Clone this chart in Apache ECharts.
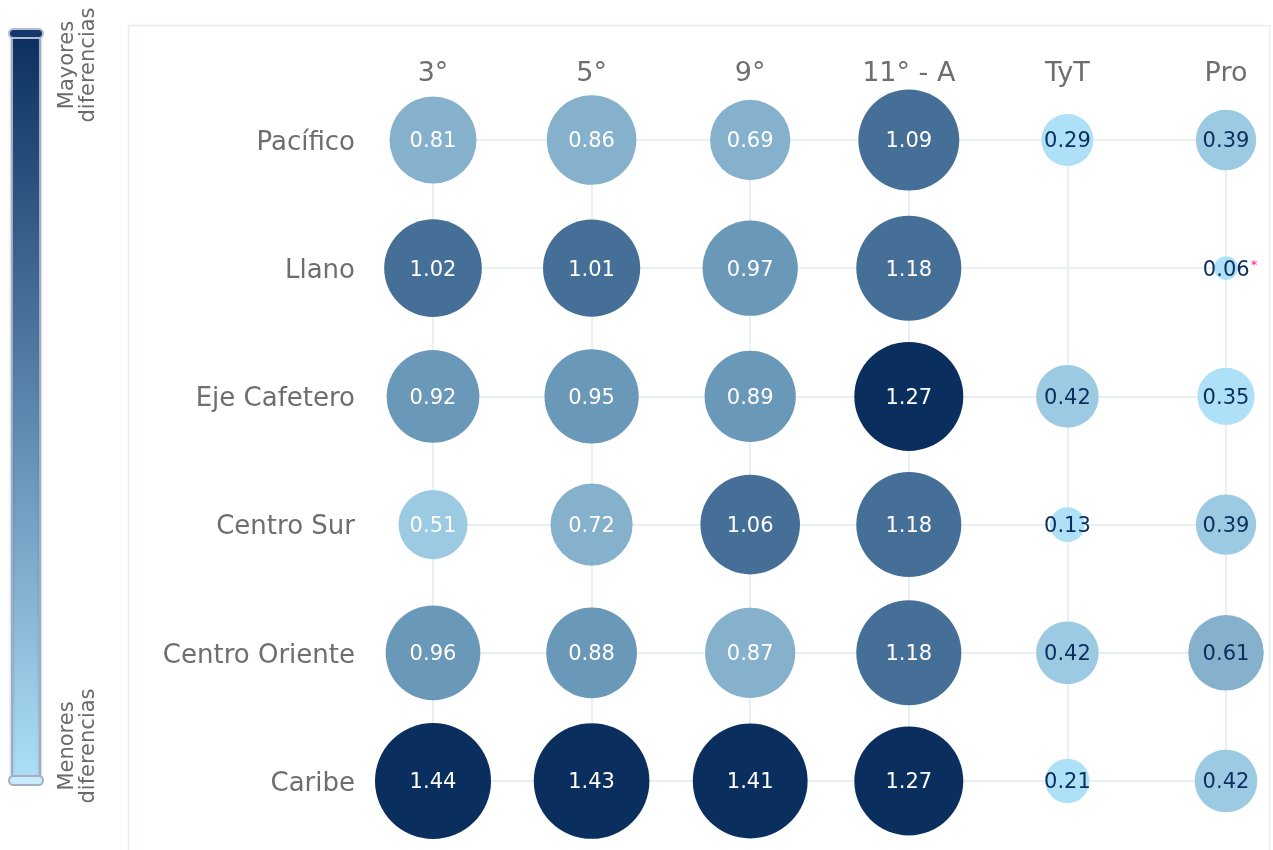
<!DOCTYPE html>
<html>
<head>
<meta charset="utf-8">
<script src="https://cdn.jsdelivr.net/npm/echarts@6/dist/echarts.min.js"></script>
<style>
html,body{margin:0;padding:0;background:#fff;}
#c{width:1273px;height:850px;}
</style>
</head>
<body>
<div id="c"></div>
<script>
// ---- data ----
var columnas = ['3°', '5°', '9°', '11° - A', 'TyT', 'Pro'];
var regiones = ['Pacífico', 'Llano', 'Eje Cafetero', 'Centro Sur', 'Centro Oriente', 'Caribe'];
var pacifico      = [0.81, 0.86, 0.69, 1.09, 0.29, 0.39];
var llano         = [1.02, 1.01, 0.97, 1.18, null, 0.06];
var ejeCafetero   = [0.92, 0.95, 0.89, 1.27, 0.42, 0.35];
var centroSur     = [0.51, 0.72, 1.06, 1.18, 0.13, 0.39];
var centroOriente = [0.96, 0.88, 0.87, 1.18, 0.42, 0.61];
var caribe        = [1.44, 1.43, 1.41, 1.27, 0.21, 0.42];
// cells marked with an asterisk [row, column]
var notas = [[1, 5]];
// colour class thresholds
var umbrales = [0.37, 0.55, 0.875, 1.0, 1.2];
var colores = ['#aee0f8', '#9ccae2', '#85b1cd', '#6a98b8', '#456f96', '#0a2f5e'];
var leyendaAlta = 'Mayores\ndiferencias';
var leyendaBaja = 'Menores\ndiferencias';

var filas = [pacifico, llano, ejeCafetero, centroSur, centroOriente, caribe];

function esNota(r, c) {
  for (var i = 0; i < notas.length; i++) if (notas[i][0] === r && notas[i][1] === c) return true;
  return false;
}

var datos = [];
filas.forEach(function (fila, r) {
  fila.forEach(function (v, c) {
    if (v === null) return;
    var nota = esNota(r, c);
    datos.push({
      value: [c, r, v],
      label: {
        color: c >= 4 ? '#0a2f5e' : '#ffffff',
        offset: nota ? [4, 2] : [0, 2]
      },
      nota: nota
    });
  });
});

var piezas = [];
for (var i = 0; i <= umbrales.length; i++) {
  var p = { color: colores[i] };
  if (i > 0) p.gte = umbrales[i - 1];
  if (i < umbrales.length) p.lt = umbrales[i];
  piezas.push(p);
}

var chart = echarts.init(document.getElementById('c'), null, { renderer: 'canvas' });

var labelFont = 'DejaVu Sans, Verdana, sans-serif';

chart.setOption({
  backgroundColor: '#ffffff',
  animation: false,
  grid: { left: 433, right: 47, top: 140, bottom: 69 },
  xAxis: {
    type: 'category',
    data: columnas,
    position: 'top',
    boundaryGap: false,
    axisLine: { show: false },
    axisTick: { show: false },
    axisLabel: { fontSize: 27, color: '#6e6e6e', margin: 53, fontFamily: labelFont },
    splitLine: { show: true, lineStyle: { color: '#e8f0f3', width: 2 } }
  },
  yAxis: {
    type: 'category',
    data: regiones,
    inverse: true,
    boundaryGap: false,
    axisLine: { show: false },
    axisTick: { show: false },
    axisLabel: {
      margin: 78,
      formatter: function (v) { return '{r|' + v + '}'; },
      rich: { r: { fontSize: 26, color: '#6e6e6e', fontFamily: labelFont, padding: [6, 0, 0, 0] } }
    },
    splitLine: { show: true, lineStyle: { color: '#e8f0f3', width: 2 } }
  },
  visualMap: {
    type: 'piecewise',
    show: false,
    dimension: 2,
    seriesIndex: 0,
    pieces: piezas
  },
  series: [{
    type: 'scatter',
    data: datos,
    symbolSize: function (val) { return 96.7 * Math.sqrt(val[2]); },
    itemStyle: { opacity: 1 },
    label: {
      show: true,
      position: 'inside',
      fontSize: 21,
      fontFamily: labelFont,
      formatter: function (p) {
        var t = p.value[2].toFixed(2);
        return p.data.nota ? '{v|' + t + '}{s|*}' : t;
      },
      rich: {
        v: { fontSize: 21, fontFamily: labelFont, color: '#0a2f5e' },
        s: { fontSize: 13, fontFamily: labelFont, color: '#ff1fa0', verticalAlign: 'top', padding: [0, 0, 10, 1] }
      }
    },
    emphasis: { disabled: true },
    z: 3
  }],
  graphic: [
    {
      type: 'rect', z: -1, silent: true,
      shape: { x: 128.5, y: 25.5, width: 1141, height: 840 },
      style: { fill: 'none', stroke: '#e6efef', lineWidth: 1.5 }
    },
    {
      type: 'rect', silent: true,
      shape: { x: 12, y: 33, width: 28, height: 748 },
      style: {
        fill: new echarts.graphic.LinearGradient(0, 0, 0, 1, [
          { offset: 0, color: '#0a2f5e' },
          { offset: 0.5, color: '#5b86ad' },
          { offset: 1, color: '#aee0f8' }
        ]),
        stroke: '#a3abc4', lineWidth: 2,
        shadowBlur: 3, shadowColor: 'rgba(80,90,120,0.35)'
      }
    },
    {
      type: 'rect', silent: true,
      shape: { x: 9, y: 29, width: 34, height: 9, r: 4.5 },
      style: { fill: '#14386a', stroke: '#b4bccf', lineWidth: 2 }
    },
    {
      type: 'rect', silent: true,
      shape: { x: 9, y: 776, width: 34, height: 9, r: 4.5 },
      style: { fill: '#c6ebfb', stroke: '#a6aec4', lineWidth: 2 }
    },
    {
      type: 'text', silent: true,
      x: 78, y: 65, rotation: Math.PI / 2,
      style: {
        text: leyendaAlta, fill: '#6a6a6a', font: '21px DejaVu Sans',
        align: 'center', verticalAlign: 'middle', lineHeight: 21
      }
    },
    {
      type: 'text', silent: true,
      x: 78, y: 746, rotation: Math.PI / 2,
      style: {
        text: leyendaBaja, fill: '#6a6a6a', font: '21px DejaVu Sans',
        align: 'center', verticalAlign: 'middle', lineHeight: 21
      }
    }
  ]
});
</script>
</body>
</html>
